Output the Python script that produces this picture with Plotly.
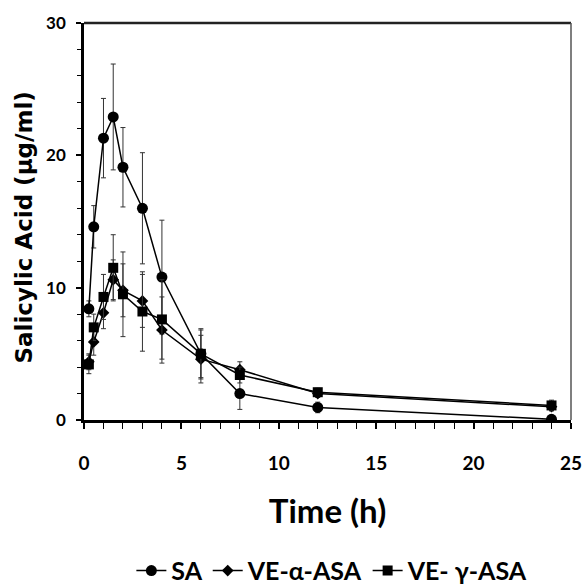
import plotly.graph_objects as go

time_h = [0.25, 0.5, 1, 1.5, 2, 3, 4, 6, 8, 12, 24]
sa = [8.4, 14.6, 21.3, 22.9, 19.1, 16.0, 10.8, 5.0, 2.0, 0.95, 0.05]
sa_err = [0.6, 1.6, 3.0, 4.0, 3.0, 4.2, 4.3, 1.9, 1.2, 0.4, 0.3]
ve_alpha = [4.4, 5.9, 8.1, 10.6, 9.8, 9.0, 6.8, 4.6, 3.8, 2.0, 1.0]
ve_alpha_err = [0.6, 1.0, 1.2, 1.5, 2.0, 2.0, 2.5, 1.8, 0.6, 0.3, 0.3]
ve_gamma = [4.2, 7.0, 9.3, 11.5, 9.5, 8.2, 7.6, 5.0, 3.4, 2.1, 1.1]
ve_gamma_err = [0.7, 1.0, 1.7, 2.5, 3.2, 3.0, 3.0, 1.8, 0.6, 0.3, 0.4]

series = [
    ("SA", sa, sa_err, "circle", 11),
    ("VE-α-ASA", ve_alpha, ve_alpha_err, "diamond", 9),
    ("VE- \u03b3-ASA", ve_gamma, ve_gamma_err, "square", 10),
]

fig = go.Figure()
for name, y, err, sym, size in series:
    fig.add_trace(go.Scatter(
        x=time_h, y=y, name=name, mode="lines+markers",
        line=dict(color="black", width=1.5),
        marker=dict(symbol=sym, size=size, color="black"),
        error_y=dict(type="data", array=err, visible=True, color="#333333", thickness=1, width=2.5),
    ))

# top and right frame lines
fig.add_shape(type="line", xref="paper", yref="paper", x0=0, x1=1, y0=1, y1=1,
              line=dict(color="#222222", width=2.5), layer="above")
fig.add_shape(type="line", xref="paper", yref="paper", x0=1, x1=1, y0=0, y1=1,
              line=dict(color="#555555", width=1.5), layer="above")

# y-axis title
fig.add_annotation(text="Salicylic Acid (µg/ml)", xref="paper", yref="paper",
                   x=-0.123, y=0.485, xanchor="center", yanchor="middle", textangle=-90,
                   showarrow=False,
                   font=dict(size=23, family="DejaVu Sans", weight="bold", color="black"))

fig.update_layout(
    width=583, height=585,
    margin=dict(l=84, r=12, t=23, b=165, autoexpand=False),
    paper_bgcolor="white", plot_bgcolor="white",
    font=dict(family="Lato", color="black", weight="bold"),
    showlegend=True,
    legend=dict(orientation="h", x=0.51, xanchor="center", y=-0.38, yanchor="middle",
                font=dict(size=25, family="Lato", weight="bold"), itemwidth=30,
                tracegroupgap=0),
    xaxis=dict(range=[0, 25], tickvals=[0, 5, 10, 15, 20, 25], ticks="outside", ticklen=6,
               tickwidth=1.5, tickcolor="black",
               minor=dict(dtick=1, ticks="outside", ticklen=6, tickcolor="black", tickwidth=1.2),
               showline=True, linecolor="black", linewidth=2.5, mirror=False,
               showgrid=False, zeroline=False, ticklabelstandoff=18, automargin=False,
               tickfont=dict(size=19, family="Lato", weight="bold"),
               title=dict(text="Time (h)", font=dict(size=33, family="Lato", weight="bold"), standoff=28)),
    yaxis=dict(range=[0, 30], tickvals=[0, 10, 20, 30], ticks="outside", ticklen=5,
               tickwidth=1.5, tickcolor="black",
               minor=dict(dtick=2, ticks="outside", ticklen=4, tickcolor="black", tickwidth=1.2),
               showline=True, linecolor="black", linewidth=2.5, mirror=False,
               showgrid=False, zeroline=False, ticklabelstandoff=7, automargin=False,
               tickfont=dict(size=17, family="Lato", weight="bold")),
)

fig.write_html(
    "out.html",
    config={"displayModeBar": False},
    post_script="document.body.style.margin='0';document.body.style.overflow='hidden';",
)
